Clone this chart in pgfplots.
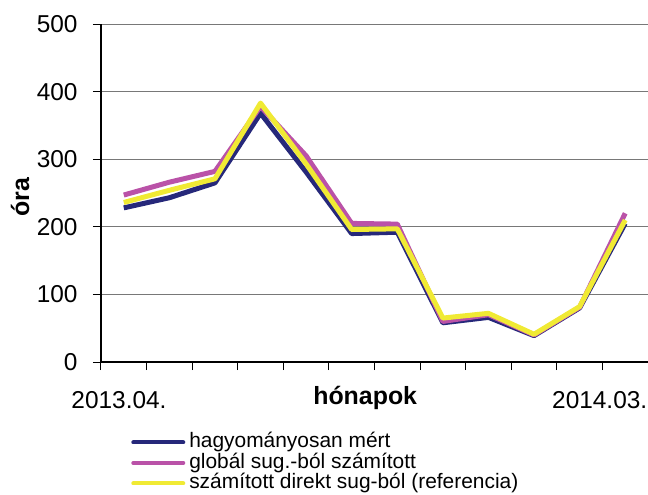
\documentclass[border=0pt]{standalone}
\usepackage{fontspec}
\setmainfont{Liberation Sans}
\usepackage{pgfplots}
\pgfplotsset{compat=1.18}
\definecolor{cnavy}{RGB}{38,40,122}
\definecolor{cmag}{RGB}{186,82,168}
\definecolor{cyel}{RGB}{240,234,52}
\definecolor{cgrid}{RGB}{120,120,120}
\begin{document}
\begin{tikzpicture}
\path[use as bounding box] (-101bp,-133bp) rectangle (547bp,362bp);
\begin{axis}[
  scale only axis,
  width=547bp, height=338bp,
  xmin=0.5, xmax=12.5,
  ymin=0, ymax=500,
  ytick={0,100,...,500},
  xtick={0.5,1.5,...,12.5},
  xticklabels={},
  extra x ticks={0.895,11.44},
  extra x tick labels={2013.04.,2014.03.},
  extra x tick style={major tick length=0pt, grid=none, xticklabel style={anchor=center, yshift=-38bp}},
  axis x line*=bottom,
  axis y line*=left,
  axis line style={black, line width=1.2bp, -},
  ymajorgrids,
  grid style={cgrid, line width=1bp},
  tick style={black, line width=1bp},
  major tick length=8bp,
  tick align=outside,
  /pgf/number format/assume math mode=true,
  ticklabel style={font=\fontsize{24.5}{24.5}\selectfont},
  yticklabel style={xshift=-12bp},
  xlabel={\textbf{hónapok}},
  ylabel={\textbf{óra}},
  label style={font=\fontsize{25}{25}\selectfont},
  xlabel style={at={(axis description cs:0.483,0)}, anchor=center, yshift=-36bp},
  ylabel style={at={(axis description cs:-0.148,0.488)}, anchor=center},
  legend style={at={(axis description cs:0.055,0)}, anchor=north west, yshift=-70bp,
    draw=none, fill=none, font=\fontsize{21}{21}\selectfont, row sep=0pt,
    inner sep=0pt, nodes={inner xsep=4bp, inner ysep=0.75bp, text height=15bp, text depth=4bp}},
  legend cell align=left,
  legend image code/.code={\draw[#1, line width=4bp, line cap=round] (0bp,0bp) -- (50bp,0bp);},
]
\addplot[cnavy, line width=5bp, line join=round] coordinates {
(1,228) (2,243) (3,265) (4,368) (5,281) (6,190) (7,192) (8,58) (9,66) (10,39) (11,80) (12,205)};
\addlegendentry{hagyományosan mért}
\addplot[cmag, line width=5bp, line join=round] coordinates {
(1,247) (2,266) (3,282) (4,378) (5,305) (6,205) (7,204) (8,60) (9,70) (10,40) (11,81) (12,220)};
\addlegendentry{globál sug.-ból számított}
\addplot[cyel, line width=5bp, line join=round] coordinates {
(1,236) (2,254) (3,271) (4,383) (5,293) (6,196) (7,197) (8,65) (9,72) (10,41) (11,82) (12,210)};
\addlegendentry{számított direkt sug-ból (referencia)}
\end{axis}
\end{tikzpicture}
\end{document}
